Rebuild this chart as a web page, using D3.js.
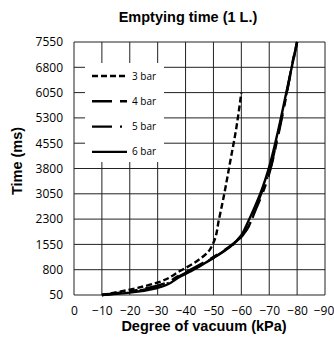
<!DOCTYPE html>
<html>
<head>
<meta charset="utf-8">
<script src="https://cdn.jsdelivr.net/npm/d3@7"></script>
<style>
  body { margin: 0; background: #fff; }
  svg { display: block; }
</style>
</head>
<body>
<div id="chart"></div>
<script>
// tick values
var xTicks = [0, -10, -20, -30, -40, -50, -60, -70, -80, -90];
var yTicks = [50, 800, 1550, 2300, 3050, 3800, 4550, 5300, 6050, 6800, 7550];

var seriesNames = ['3 bar', '4 bar', '5 bar', '6 bar'];

// degree of vacuum (kPa) / emptying time (ms)
var vac3 = [-10, -20, -30, -38, -44, -48, -50, -52, -54, -56, -58, -60];
var time3 = [50, 210, 420, 760, 1050, 1320, 1600, 2300, 3100, 4000, 4900, 6050];

var vac4 = [-10, -20, -30, -38, -44, -48, -52, -56, -59, -62, -65, -68, -70, -73, -76, -79, -80];
var time4 = [50, 160, 330, 640, 900, 1080, 1280, 1500, 1700, 2000, 2550, 3150, 3650, 4700, 5900, 7200, 7550];

var vac5 = [-10, -20, -30, -38, -44, -48, -52, -56, -59, -62, -65, -68, -70, -73, -76, -80];
var time5 = [50, 140, 300, 620, 880, 1060, 1260, 1480, 1680, 2000, 2600, 3250, 3700, 4750, 5950, 7550];

var vac6 = [-10, -20, -30, -38, -44, -47, -52, -56, -60, -62, -65, -67, -70, -73, -76, -80];
var time6 = [50, 120, 260, 590, 850, 1000, 1250, 1480, 1820, 2150, 2700, 3100, 3850, 4850, 6000, 7550];

var width = 334, height = 338;
var plot = {left: 74, right: 325, top: 42, bottom: 295};
var dashes = ['6,3', '20,8,8,8', '20,8,2,8', null];
var fontTick = '"Open Sans", sans-serif';
var fontBold = '"Liberation Sans", Arial, sans-serif';

var series = [
  {name: seriesNames[0], vac: vac3, time: time3},
  {name: seriesNames[1], vac: vac4, time: time4},
  {name: seriesNames[2], vac: vac5, time: time5},
  {name: seriesNames[3], vac: vac6, time: time6}
];

var x = d3.scaleLinear().domain([0, -90]).range([plot.left, plot.right]);
var y = d3.scaleLinear().domain([50, 7550]).range([plot.bottom, plot.top]);

var svg = d3.select('#chart').append('svg')
  .attr('width', width)
  .attr('height', height);

// grid
svg.append('g').selectAll('line.v').data(xTicks)
  .enter().append('line')
  .attr('x1', d => x(d)).attr('x2', d => x(d))
  .attr('y1', plot.top).attr('y2', plot.bottom)
  .attr('stroke', '#222').attr('stroke-width', 1);

svg.append('g').selectAll('line.h').data(yTicks)
  .enter().append('line')
  .attr('x1', plot.left).attr('x2', plot.right)
  .attr('y1', d => y(d)).attr('y2', d => y(d))
  .attr('stroke', '#222').attr('stroke-width', 1);

// axes (labels only, no tick marks)
var xAxis = svg.append('g')
  .attr('transform', `translate(0,${plot.bottom})`)
  .call(d3.axisBottom(x).tickValues(xTicks).tickSize(0).tickPadding(0).tickFormat(d3.format('d')));
xAxis.select('.domain').remove();
xAxis.selectAll('text')
  .attr('y', 20).attr('dy', 0)
  .attr('dx', d => d === -90 ? -1.5 : 0)
  .style('font-family', fontTick).style('font-size', '12px').attr('fill', '#000');

var yAxis = svg.append('g')
  .attr('transform', `translate(63,0)`)
  .call(d3.axisLeft(y).tickValues(yTicks).tickSize(0).tickPadding(0).tickFormat(d3.format('d')));
yAxis.select('.domain').remove();
yAxis.selectAll('text')
  .attr('x', 0)
  .style('font-family', fontTick).style('font-size', '12px').attr('fill', '#000');

// legend box
var legend = svg.append('g');
legend.append('rect')
  .attr('x', 85).attr('y', 63)
  .attr('width', 79).attr('height', 99)
  .attr('fill', '#fff');

legend.selectAll('g.item').data(series)
  .enter().append('g')
  .attr('transform', (d, i) => `translate(92,${76 + i * 25.3})`)
  .each(function(d, i) {
    var g = d3.select(this);
    g.append('line')
      .attr('x1', 0).attr('x2', 35).attr('y1', 0).attr('y2', 0)
      .attr('stroke', '#000').attr('stroke-width', 2.4)
      .attr('stroke-dasharray', dashes[i]);
    g.append('text')
      .attr('x', 40).attr('y', 0).attr('dy', '0.35em')
      .style('font-family', fontTick).style('font-size', '10px')
      .text(d.name);
  });

// curves
var line = d3.line()
  .x(d => x(d[0]))
  .y(d => y(d[1]))
  .curve(d3.curveMonotoneY);

svg.append('g').selectAll('path').data(series)
  .enter().append('path')
  .attr('d', d => line(d.vac.map((v, i) => [v, d.time[i]])))
  .attr('fill', 'none')
  .attr('stroke', '#000')
  .attr('stroke-width', 2.4)
  .attr('stroke-dasharray', (d, i) => dashes[i]);

// titles
svg.append('text')
  .attr('x', 188).attr('y', 22)
  .attr('text-anchor', 'middle')
  .style('font-family', fontBold).style('font-weight', 'bold').style('font-size', '14.5px')
  .text('Emptying time (1 L.)');

svg.append('text')
  .attr('x', 204).attr('y', 331)
  .attr('text-anchor', 'middle')
  .style('font-family', fontBold).style('font-weight', 'bold').style('font-size', '14.5px')
  .text('Degree of vacuum (kPa)');

svg.append('text')
  .attr('transform', 'translate(22,161) rotate(-90)')
  .attr('text-anchor', 'middle')
  .style('font-family', fontBold).style('font-weight', 'bold').style('font-size', '14.5px')
  .text('Time (ms)');
</script>
</body>
</html>
